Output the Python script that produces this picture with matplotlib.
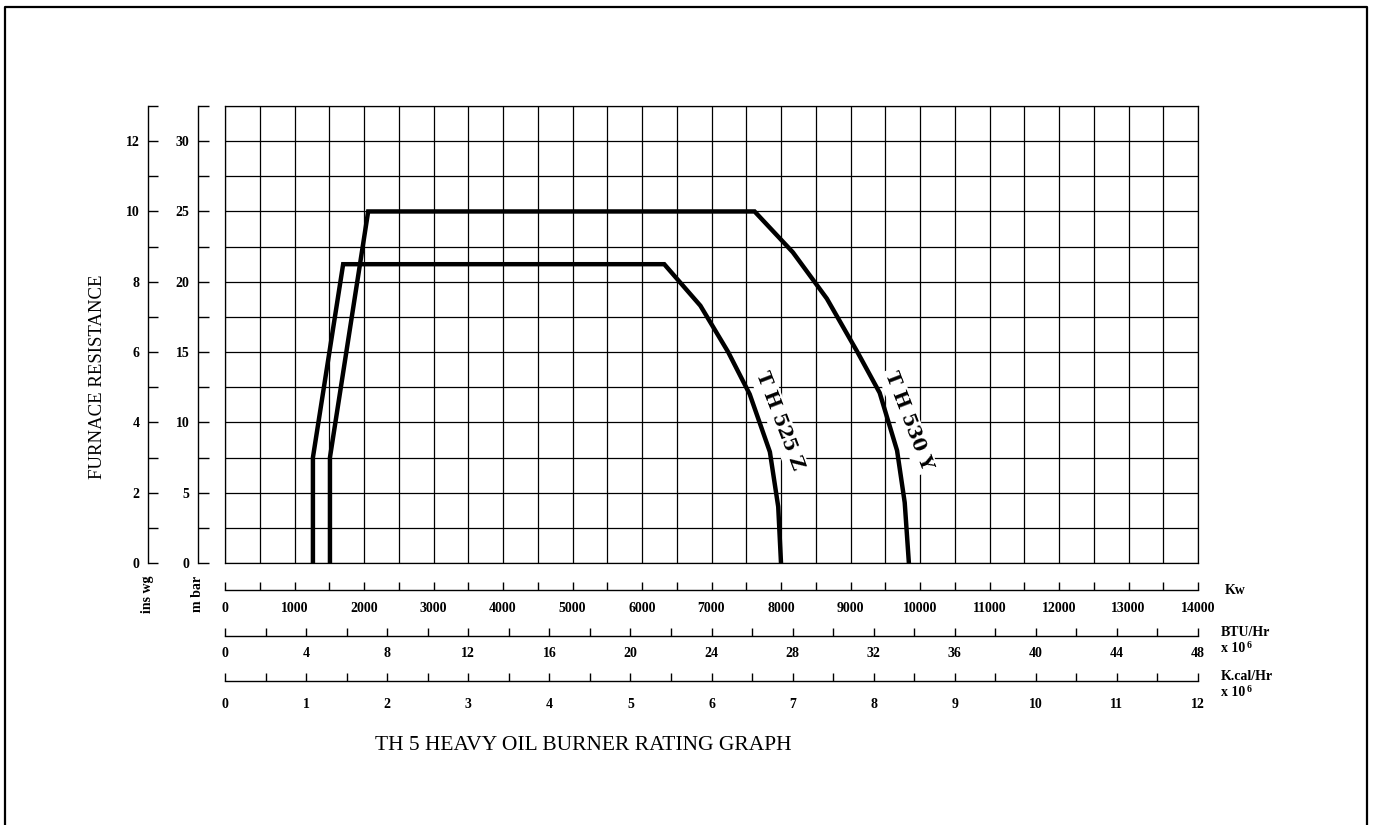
import matplotlib
matplotlib.use("Agg")
import matplotlib.pyplot as plt
from matplotlib.lines import Line2D
import numpy as np

# ---------------- data ----------------
kw_525 = [1265, 1265, 1700, 6320, 6840, 7240, 7550, 7840, 7960, 8000]
mbar_525 = [0, 7.5, 21.25, 21.25, 18.3, 15.0, 12.0, 7.9, 4.0, 0]

kw_530 = [1510, 1510, 2060, 7620, 8170, 8660, 9100, 9420, 9670, 9780, 9840]
mbar_530 = [0, 7.5, 25.0, 25.0, 22.1, 18.8, 15.0, 12.1, 8.0, 4.3, 0]

label_525 = "T H 525 Z"
label_530 = "T H 530 Y"
label_525_pos = (7975, 10.1)
label_530_pos = (9825, 10.1)

kw_ticks = list(range(0, 14001, 500))
kw_labels = [str(v) if v % 1000 == 0 else "" for v in kw_ticks]
btu_ticks = list(range(0, 49, 2))
btu_labels = [str(v) if v % 4 == 0 else "" for v in btu_ticks]
kcal_ticks = [v / 2 for v in range(0, 25)]
kcal_labels = [str(int(v)) if v == int(v) else "" for v in kcal_ticks]
inwg_ticks = list(range(0, 14))
inwg_labels = [str(v) if v % 2 == 0 else "" for v in inwg_ticks]
mbar_ticks = [v * 2.5 for v in range(0, 14)]
mbar_labels = [str(int(v)) if v % 5 == 0 else "" for v in mbar_ticks]

title = "TH 5 HEAVY OIL BURNER RATING GRAPH"
ylabel = "FURNACE RESISTANCE"

SERIF = "Liberation Serif"
W, H = 1375, 825


def fx(px):
    return px / W


def fy(py):
    return 1 - py / H


fig = plt.figure(figsize=(W / 100, H / 100), dpi=100)
fig.patch.set_facecolor("white")

# ---------------- main grid axes ----------------
ax = fig.add_axes([fx(225), fy(563), (1198 - 225) / W, (563 - 106) / H])
ax.set_xlim(0, 14000)
ax.set_ylim(0, 32.5)
ax.set_xticks(kw_ticks)
ax.set_yticks(mbar_ticks)
ax.tick_params(left=False, bottom=False, labelleft=False, labelbottom=False)
ax.grid(True, color="black", linewidth=0.9)
for s in ax.spines.values():
    s.set_linewidth(0.9)
    s.set_color("black")

ax.plot(kw_525, mbar_525, color="black", linewidth=3.2, solid_joinstyle="miter", zorder=6)
ax.plot(kw_530, mbar_530, color="black", linewidth=3.2, solid_joinstyle="miter", zorder=6)

for txt, pos in ((label_525, label_525_pos), (label_530, label_530_pos)):
    ax.text(pos[0], pos[1], txt, rotation=-69, rotation_mode="anchor",
            ha="center", va="center", fontsize=13.5, fontweight="bold", family="DejaVu Serif",
            zorder=5, bbox=dict(facecolor="white", edgecolor="none", pad=2))

# ---------------- left vertical scales ----------------
def vscale(xpx, top, ticks, labels, ticklen):
    a = fig.add_axes([fx(xpx), fy(563), 0.0001, (563 - 106) / H])
    a.set_ylim(0, top)
    a.set_xticks([])
    a.set_yticks(ticks)
    a.set_yticklabels(labels, fontsize=10, fontweight="bold", family=SERIF)
    a.tick_params(axis="y", direction="in", length=ticklen, width=1, pad=6)
    for k in ("top", "right", "bottom"):
        a.spines[k].set_visible(False)
    a.spines["left"].set_linewidth(1)
    a.patch.set_visible(False)
    return a


vscale(148, 13, inwg_ticks, inwg_labels, 7.5)
vscale(198, 32.5, mbar_ticks, mbar_labels, 8)

# ---------------- bottom horizontal scales ----------------
def hscale(ypx, top, ticks, labels, pad):
    a = fig.add_axes([fx(225), fy(ypx), (1198 - 225) / W, 0.0001])
    a.set_xlim(0, top)
    a.set_yticks([])
    a.set_xticks(ticks)
    a.set_xticklabels(labels, fontsize=10, fontweight="bold", family=SERIF)
    a.tick_params(axis="x", direction="in", length=5.5, width=1, pad=pad)
    for k in ("top", "right", "left"):
        a.spines[k].set_visible(False)
    a.spines["bottom"].set_linewidth(1)
    a.patch.set_visible(False)
    return a


hscale(590, 14000, kw_ticks, kw_labels, 9)
hscale(636, 48, btu_ticks, btu_labels, 8)
hscale(681, 12, kcal_ticks, kcal_labels, 12)

tk = dict(fontsize=10, fontweight="bold", family=SERIF, ha="left", va="center")
sup = dict(fontsize=7, fontweight="bold", family=SERIF, ha="left", va="center")
fig.text(fx(1225), fy(590), "Kw", **tk)
fig.text(fx(1221), fy(633), "BTU/Hr", **tk)
fig.text(fx(1221), fy(649), "x 10", **tk)
fig.text(fx(1247), fy(645), "6", **sup)
fig.text(fx(1221), fy(677), "K.cal/Hr", **tk)
fig.text(fx(1221), fy(693), "x 10", **tk)
fig.text(fx(1247), fy(689), "6", **sup)

rk = dict(fontsize=10, fontweight="bold", family=SERIF, ha="center", va="center", rotation=90)
fig.text(fx(148), fy(594), "ins wg", **rk)
fig.text(fx(198), fy(594), "m bar", **rk)

fig.text(fx(98), fy(377), ylabel, fontsize=13.5, family=SERIF, ha="center", va="center",
         rotation=90)
fig.text(fx(583), fy(745), title, fontsize=15.5, family=SERIF, ha="center", va="center")

# ---------------- outer border ----------------
fig.add_artist(Line2D([fx(5), fx(5), fx(1367), fx(1367)],
                      [fy(830), fy(7), fy(7), fy(830)],
                      transform=fig.transFigure, color="black", linewidth=1.6))

fig.savefig("out.png", dpi=100, facecolor="white")
